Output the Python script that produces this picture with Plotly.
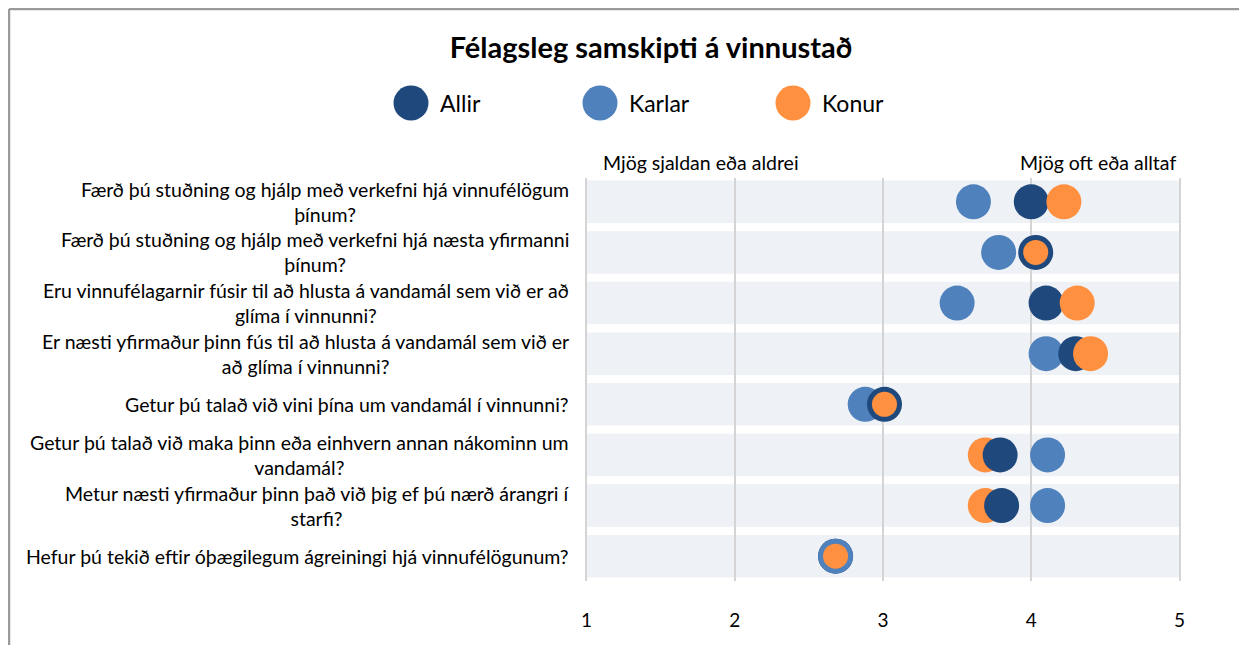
import plotly.graph_objects as go

# ---------------- data ----------------
categories = [
    "Færð þú stuðning og hjálp með verkefni hjá vinnufélögum<br>þínum?",
    "Færð þú stuðning og hjálp með verkefni hjá næsta yfirmanni<br>þínum?",
    "Eru vinnufélagarnir fúsir til að hlusta á vandamál sem við er að<br>glíma í vinnunni?",
    "Er næsti yfirmaður þinn fús til að hlusta á vandamál sem við er<br>að glíma í vinnunni?",
    "Getur þú talað við vini þína um vandamál í vinnunni?",
    "Getur þú talað við maka þinn eða einhvern annan nákominn um<br>vandamál?",
    "Metur næsti yfirmaður þinn það við þig ef þú nærð árangri í<br>starfi?",
    "Hefur þú tekið eftir óþægilegum ágreiningi hjá vinnufélögunum?",
]
allir = [4.00, 4.03, 4.10, 4.30, 3.01, 3.79, 3.80, 2.68]
karlar = [3.61, 3.78, 3.50, 4.10, 2.88, 4.11, 4.11, 2.68]
konur = [4.22, 4.03, 4.31, 4.40, 3.01, 3.69, 3.69, 2.68]
series_names = ["Allir", "Karlar", "Konur"]
x_ticks = [1, 2, 3, 4, 5]
scale_low = "Mjög sjaldan eða aldrei"
scale_high = "Mjög oft eða alltaf"
title = "Félagsleg samskipti á vinnustað"

# ---------------- style ----------------
colors = {"Allir": "#1F497D", "Karlar": "#4F81BD", "Konur": "#FF9040"}
FONT = "Lato, 'Open Sans', sans-serif"
OFF = 8  # page body margin offset
W, H = 1239, 637
ML, MR, MT, MB = 585 - OFF, 66, 178 - OFF, 64
MSIZE = 35
MSIZE_INNER = 25
band_color = "#EEF1F6"
TXT = 19.5

n = len(categories)
rows = list(range(n))
data = {"Allir": allir, "Karlar": karlar, "Konur": konur}

# Build points; within a row the right-most point is drawn on top,
# ties: Allir below Karlar below Konur; a tied Konur is drawn smaller.
pts = []
for rank, name in enumerate(series_names):
    vals = data[name]
    for i, v in enumerate(vals):
        size = MSIZE
        if name == "Konur":
            others = [data[o][i] for o in series_names if o != "Konur"]
            if any(abs(v - o) < 0.015 for o in others):
                size = MSIZE_INNER
        pts.append((v, rank, i, colors[name], size, name))
pts.sort(key=lambda p: (p[0], p[1]))

fig = go.Figure()
fig.add_trace(go.Scatter(
    x=[p[0] for p in pts],
    y=[p[2] for p in pts],
    mode="markers",
    marker=dict(color=[p[3] for p in pts], size=[p[4] for p in pts],
                opacity=1, line=dict(width=0)),
    text=[p[5] for p in pts],
    hovertemplate="%{text}: %{x:.2f}<extra></extra>",
    showlegend=False,
))

# Row bands
shapes = []
for i in rows:
    shapes.append(dict(type="rect", xref="x", yref="y", x0=x_ticks[0], x1=x_ticks[-1],
                       y0=i - 0.42, y1=i + 0.42, fillcolor=band_color,
                       line=dict(width=0), layer="below"))

# Pixel (reference) -> paper helpers
pw = W - ML - MR
ph = H - MT - MB
def px_x(px):
    return (px - OFF - ML) / pw
def px_y(py):
    return (H - MB - (py - OFF)) / ph

# Chart frame (top and left border)
shapes.append(dict(type="line", xref="paper", yref="paper", x0=px_x(9), x1=px_x(1270),
                   y0=px_y(9), y1=px_y(9), line=dict(color="#9A9A9A", width=2.5)))
shapes.append(dict(type="line", xref="paper", yref="paper", x0=px_x(9), x1=px_x(9),
                   y0=px_y(9), y1=px_y(680), line=dict(color="#9A9A9A", width=2.5)))

annotations = []
# Custom legend with large circle markers
legend_x = [411, 600, 793]
legend_y = 103
r = MSIZE / 2
for name, lx in zip(series_names, legend_x):
    shapes.append(dict(type="circle", xref="paper", yref="paper",
                       xsizemode="pixel", ysizemode="pixel",
                       xanchor=px_x(lx), yanchor=px_y(legend_y),
                       x0=-r, x1=r, y0=-r, y1=r,
                       fillcolor=colors[name], line=dict(width=0)))
    annotations.append(dict(xref="paper", yref="paper", x=px_x(lx + 27), y=px_y(legend_y),
                            xanchor="left", yanchor="middle", showarrow=False,
                            text=name, font=dict(family=FONT, size=23, color="#000000")))

# Category labels (centered multi-line blocks, right-anchored)
for i, c in zip(rows, categories):
    annotations.append(dict(xref="paper", yref="y", x=0, y=i, xanchor="right",
                            yanchor="middle", xshift=-14, align="center",
                            showarrow=False, text=c,
                            font=dict(family=FONT, size=TXT, color="#000000")))

# Scale end labels
annotations.append(dict(xref="x", yref="paper", x=x_ticks[0], y=px_y(162), xanchor="left",
                        yanchor="middle", xshift=15, showarrow=False, text=scale_low,
                        font=dict(family=FONT, size=TXT, color="#000000")))
annotations.append(dict(xref="x", yref="paper", x=x_ticks[-1], y=px_y(162), xanchor="right",
                        yanchor="middle", xshift=-2, showarrow=False, text=scale_high,
                        font=dict(family=FONT, size=TXT, color="#000000")))

fig.update_layout(
    width=W, height=H,
    margin=dict(l=ML, r=MR, t=MT, b=MB),
    paper_bgcolor="#FFFFFF", plot_bgcolor="#FFFFFF",
    title=dict(text=f"<b>{title}</b>", x=(651 - OFF) / W, xref="container", xanchor="center",
               y=1 - (48 - OFF) / H, yref="container", yanchor="middle",
               font=dict(family=FONT, size=29, color="#000000")),
    font=dict(family=FONT, size=TXT, color="#000000"),
    shapes=shapes,
    annotations=annotations,
    showlegend=False,
    hovermode="closest",
)
fig.update_xaxes(range=[0.99, 5.01], tickvals=x_ticks, ticktext=[str(t) for t in x_ticks],
                 showgrid=True, gridcolor="#D4D4D4", gridwidth=1.5, zeroline=False,
                 showline=False, ticks="", ticklabelstandoff=26,
                 tickfont=dict(family=FONT, size=19, color="#000000"))
fig.update_yaxes(range=[n - 1 + 0.49, -0.47], showgrid=False, zeroline=False,
                 showticklabels=False, showline=False, ticks="")

fig.write_html("out.html")
